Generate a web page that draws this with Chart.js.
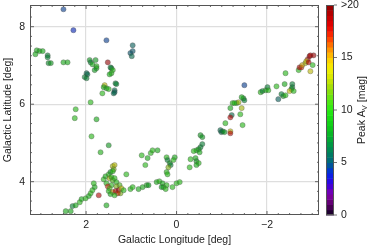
<!DOCTYPE html>
<html>
<head>
<meta charset="utf-8">
<script src="https://cdn.jsdelivr.net/npm/chart.js@4.4.1/dist/chart.umd.min.js"></script>
<style>
  body { margin: 0; background: #fff; }
  #wrap { width: 374px; height: 249px; }
</style>
</head>
<body>
<div id="wrap"><canvas id="myChart"></canvas></div>
<script>
// galactic longitude / latitude [deg] and peak Av [mag] of each clump
const lon = [
  2.50, 2.28, 1.55, 0.97, 0.97, 1.02, 0.99, 3.09, 3.03, 2.96,
  3.12, 2.85, 2.85, 2.83, 2.78, 2.50, 2.41, 1.92, 1.90, 1.86,
  1.79, 1.77, 1.77, 1.81, 1.99, 1.97, 2.03, 1.99, 1.52, 1.46,
  1.44, 1.41, 1.44, 1.48, 1.59, 1.61, 1.55, 1.50, 1.64, 1.35,
  1.33, 1.37, 1.37, 1.39, 1.90, 2.23, 2.25, 1.77, 1.88, 1.50,
  1.68, 0.77, 0.57, 0.53, 0.42, 0.64, 0.69, 1.41, 1.37, 1.39,
  1.11, 1.72, 1.55, 2.45, 2.34, 2.30, 2.23, 2.14, 2.10, 2.01,
  1.94, 1.90, 1.86, 1.81, 1.83, 1.61, 1.57, 1.50, 1.46, 1.41,
  1.55, 1.48, 1.44, 1.41, 1.37, 1.33, 1.26, 1.33, 1.44, 1.52,
  1.48, 1.50, 1.41, 1.35, 1.28, 1.24, 1.30, 1.22, 1.17, 1.46,
  1.37, 1.02, 0.97, 0.84, 0.75, 0.66, 0.62, 0.44, 0.38, 0.31,
  0.22, 0.29, 0.33, 0.24, 0.09, 0.00, -0.07, 0.22, 0.20, 0.15,
  0.13, 0.04, 0.07, 0.18, 0.22, 0.20, -0.31, -0.42, -0.44, -0.49,
  -0.44, -0.29, -0.53, -0.57, -0.57, -0.53, -0.49, -0.44, -0.38, -0.51,
  -0.97, -0.99, -1.02, -1.06, -1.19, -1.19, -1.08, -1.46, -1.24, -1.33,
  -1.37, -1.19, -1.44, -1.22, -1.19, -1.41, -1.28, -1.48, -1.50, -1.44,
  -1.50, -1.86, -1.90, -1.97, -2.01, -2.03, -2.21, -2.39, -2.56, -2.56,
  -2.54, -2.50, -2.59, -2.36, -2.32, -2.41, -2.25, -2.41, -2.70, -2.72,
  -2.76, -2.78, -2.85, -2.90, -2.94, -2.96, -3.03, -2.87, -2.92, -3.01,
  -2.96
]
const lat = [
  8.45, 7.91, 7.65, 7.52, 7.37, 7.32, 7.24, 7.39, 7.37, 7.37,
  7.29, 7.26, 7.21, 7.06, 7.06, 7.08, 7.08, 7.14, 7.08, 7.03,
  7.14, 6.98, 6.93, 6.88, 6.80, 6.77, 6.70, 6.67, 7.08, 6.95,
  6.93, 6.88, 6.80, 6.77, 6.49, 6.44, 6.41, 6.39, 6.28, 6.54,
  6.52, 6.36, 6.31, 6.28, 6.05, 5.87, 5.64, 5.61, 5.17, 4.94,
  4.76, 4.68, 4.74, 4.81, 4.81, 4.61, 4.43, 4.40, 4.43, 4.32,
  4.19, 3.65, 3.39, 3.24, 3.24, 3.37, 3.39, 3.47, 3.55, 3.57,
  3.63, 3.70, 3.78, 3.86, 3.96, 4.06, 4.14, 4.19, 4.25, 4.27,
  3.96, 4.09, 4.12, 4.04, 4.09, 3.99, 3.91, 3.88, 3.91, 3.88,
  3.83, 3.76, 3.73, 3.76, 3.78, 3.70, 3.70, 3.83, 3.78, 3.68,
  3.65, 3.81, 3.86, 3.81, 3.86, 3.91, 3.91, 3.99, 4.01, 3.96,
  3.91, 3.86, 3.86, 3.81, 3.86, 3.96, 3.99, 4.63, 4.56, 4.48,
  4.43, 4.63, 4.56, 4.37, 4.25, 4.19, 4.58, 4.61, 4.53, 4.48,
  4.43, 4.37, 5.20, 5.15, 4.97, 4.89, 4.84, 4.81, 4.79, 4.76,
  5.33, 5.28, 5.30, 5.28, 5.30, 5.25, 5.51, 5.46, 6.03, 6.03,
  6.05, 5.90, 5.90, 5.72, 5.66, 5.74, 6.03, 6.15, 6.10, 6.18,
  6.49, 6.31, 6.34, 6.36, 6.44, 6.36, 6.46, 6.52, 6.52, 6.44,
  6.39, 6.34, 6.34, 6.21, 6.26, 6.23, 6.13, 6.80, 6.88, 6.95,
  6.95, 7.01, 7.06, 7.16, 7.24, 7.26, 7.26, 7.11, 7.08, 7.01,
  6.85
]
const peakAv = [
  4.5, 4, 4.5, 5.5, 5, 5, 6, 9, 9, 9,
  9, 7, 7, 7.5, 8, 9, 9, 8, 7, 9,
  8, 10, 9, 8, 6, 6, 7, 7, 19, 7,
  7, 10, 10, 9, 14, 9, 9, 10, 10, 7,
  7, 6, 5.5, 6, 10, 10, 10, 9, 10, 8,
  9.5, 10, 10, 10, 9, 9, 10, 13, 13.5, 12,
  10, 18, 9, 9, 9, 7, 9, 10, 9, 10,
  9, 10, 10, 9, 10, 10, 9, 10, 8, 10,
  10, 13, 10, 11, 10, 10, 11, 12, 10, 17,
  11, 10, 15, 18, 19, 12, 17, 14, 10, 9,
  10, 10, 10, 9, 9, 9, 8, 9, 10, 9,
  10, 10, 8, 10, 10, 10, 10, 10, 7, 8,
  7, 9, 10, 12, 10, 10, 10, 9, 8, 10,
  9, 10, 8, 8, 7, 7, 8, 9, 10, 9,
  6, 6, 7, 8, 14, 18, 10, 10, 10, 9,
  13, 9, 13, 6, 18, 10, 10, 8, 7, 9,
  4.5, 10, 7, 9, 7, 10, 10, 9, 7, 7,
  8, 14, 10, 8, 7, 10, 5.5, 10, 10, 18,
  17, 15, 13, 18, 19, 18, 19, 14, 18, 10,
  14
]
const xTicks = [2, 0, -2]
const yTicks = [4, 6, 8]
const cbTicks = [0, 5, 10, 15, 20]
const cbLabels = ['0', '5', '10', '15', '>20']

// colour map stops: [Av, r, g, b]
const cmap = [
  [0, 10, 0, 30], [1, 90, 0, 100], [2, 130, 0, 170], [3, 50, 0, 225],
  [4, 0, 40, 230], [5, 0, 100, 130], [6, 0, 130, 90], [7, 0, 160, 60],
  [8, 10, 190, 30], [9, 20, 215, 20], [10, 40, 235, 20], [11, 90, 230, 20],
  [12, 150, 220, 10], [13, 210, 230, 0], [14, 245, 240, 0], [15, 255, 200, 0],
  [16, 255, 130, 0], [17, 255, 50, 0], [18, 230, 0, 0], [19, 190, 0, 0], [20, 140, 0, 0]
]
function avColor(v, a, dim) {
  v = Math.max(0, Math.min(20, v))
  let i = 0
  while (i < cmap.length - 2 && cmap[i + 1][0] < v) i++
  const s = cmap[i], e = cmap[i + 1]
  const t = (v - s[0]) / (e[0] - s[0])
  const k = dim || 1
  const c = [1, 2, 3].map(j => Math.round((s[j] + (e[j] - s[j]) * t) * k))
  return a === undefined ? `rgb(${c})` : `rgba(${c},${a})`
}

const points = lon.map((l, i) => ({ x: l, y: lat[i], av: peakAv[i] }))

Chart.defaults.font.family = "'Liberation Sans', Arial, sans-serif"
Chart.defaults.font.size = 10.5
Chart.defaults.color = '#222'

const frame = {
  id: 'frame',
  afterDraw(chart) {
    const { ctx, chartArea: a, scales } = chart
    const x = scales.x, y = scales.y, cb = scales.cb
    ctx.save()
    ctx.strokeStyle = '#444'
    ctx.lineWidth = 0.8
    const seg = (x1, y1, x2, y2) => { ctx.beginPath(); ctx.moveTo(x1, y1); ctx.lineTo(x2, y2); ctx.stroke() }
    // inward ticks, minor every 0.25 deg
    for (let i = -13; i <= 13; i++) {
      const px = x.getPixelForValue(i / 4)
      if (px < a.left + 1 || px > a.right - 1) continue
      const len = i % 8 === 0 ? 4 : 2
      seg(px, a.bottom, px, a.bottom - len)
      seg(px, a.top, px, a.top + len)
    }
    for (let i = 12; i <= 35; i++) {
      const py = y.getPixelForValue(i / 4)
      if (py < a.top + 1 || py > a.bottom - 1) continue
      const len = i % 8 === 0 ? 4 : 2
      seg(a.left, py, a.left + len, py)
      seg(a.right, py, a.right - len, py)
    }
    ctx.strokeStyle = '#555'
    ctx.lineWidth = 1
    ctx.strokeRect(a.left + 0.5, a.top + 0.5, a.right - a.left - 1, a.bottom - a.top - 1)

    // colour bar
    const bx = a.right + 7, bw = 8
    for (let v = 0; v < 20; v += 0.5) {
      const t = cb.getPixelForValue(v + 0.5), b = cb.getPixelForValue(v)
      ctx.fillStyle = avColor(v + 0.25)
      ctx.fillRect(bx, t, bw, b - t + 0.5)
    }
    ctx.strokeStyle = '#555'
    ctx.strokeRect(bx + 0.5, cb.top + 0.5, bw - 1, cb.bottom - cb.top - 1)
    ctx.lineWidth = 0.8
    cbTicks.forEach(v => {
      const py = cb.getPixelForValue(v)
      seg(bx + bw, py, bx + bw + 3, py)
    })

    // colour bar title with subscript
    ctx.translate(362, (cb.top + cb.bottom) / 2)
    ctx.rotate(-Math.PI / 2)
    ctx.fillStyle = '#222'
    ctx.textBaseline = 'middle'
    const f = "10.5px 'Liberation Sans', Arial, sans-serif"
    const fs = "7.5px 'Liberation Sans', Arial, sans-serif"
    ctx.font = f
    const w1 = ctx.measureText('Peak A').width
    const w3 = ctx.measureText(' [mag]').width
    ctx.font = fs
    const w2 = ctx.measureText('V').width
    let cx = -(w1 + w2 + w3) / 2
    ctx.font = f
    ctx.fillText('Peak A', cx, 0)
    ctx.font = fs
    ctx.fillText('V', cx + w1, 3)
    ctx.font = f
    ctx.fillText(' [mag]', cx + w1 + w2, 0)
    ctx.restore()
  }
}

const ctx = document.getElementById('myChart').getContext('2d')
new Chart(ctx, {
  type: 'scatter',
  data: {
    datasets: [{
      data: points,
      pointRadius: 2.6,
      pointBorderWidth: 0.6,
      pointBorderColor: 'rgba(80,80,80,0.55)',
      pointBackgroundColor: c => avColor(c.raw ? c.raw.av : 10, 0.6, 0.75)
    }]
  },
  options: {
    animation: false,
    responsive: true,
    maintainAspectRatio: false,
    events: [],
    layout: { padding: { top: 5, left: 0, right: 0, bottom: 0 } },
    plugins: { legend: { display: false }, tooltip: { enabled: false } },
    scales: {
      x: {
        type: 'linear',
        reverse: true,
        min: -3.15,
        max: 3.24,
        border: { display: false },
        grid: { color: '#dedede', lineWidth: 1.2, drawTicks: false },
        ticks: {
          stepSize: 2,
          includeBounds: false,
          padding: 4,
          color: '#222',
          callback: v => (v < 0 ? '\u2212' + Math.abs(v) : String(v))
        },
        afterBuildTicks: s => { s.ticks = xTicks.map(v => ({ value: v })) },
        afterFit: s => { s.height = 34; s.paddingLeft = 0; s.paddingRight = 0 },
        title: { display: true, text: 'Galactic Longitude [deg]', color: '#222', padding: { top: 0, bottom: 3 } }
      },
      y: {
        type: 'linear',
        min: 3.14,
        max: 8.56,
        border: { display: false },
        grid: { color: '#dedede', lineWidth: 1.2, drawTicks: false },
        ticks: { stepSize: 2, includeBounds: false, padding: 5, color: '#222' },
        afterBuildTicks: s => { s.ticks = yTicks.map(v => ({ value: v })) },
        afterFit: s => { s.width = 30; s.paddingTop = 0; s.paddingBottom = 0 },
        title: { display: true, text: 'Galactic Latitude [deg]', color: '#222', padding: { top: 2, bottom: 0 } }
      },
      cb: {
        type: 'linear',
        position: 'right',
        min: 0,
        max: 20,
        border: { display: false },
        grid: { display: false, drawTicks: false },
        ticks: { padding: 22, color: '#222', callback: v => cbLabels[cbTicks.indexOf(v)] },
        afterBuildTicks: s => { s.ticks = cbTicks.map(v => ({ value: v })) },
        afterFit: s => { s.width = 55; s.paddingTop = 0; s.paddingBottom = 0 }
      }
    }
  },
  plugins: [frame]
})
</script>
</body>
</html>
